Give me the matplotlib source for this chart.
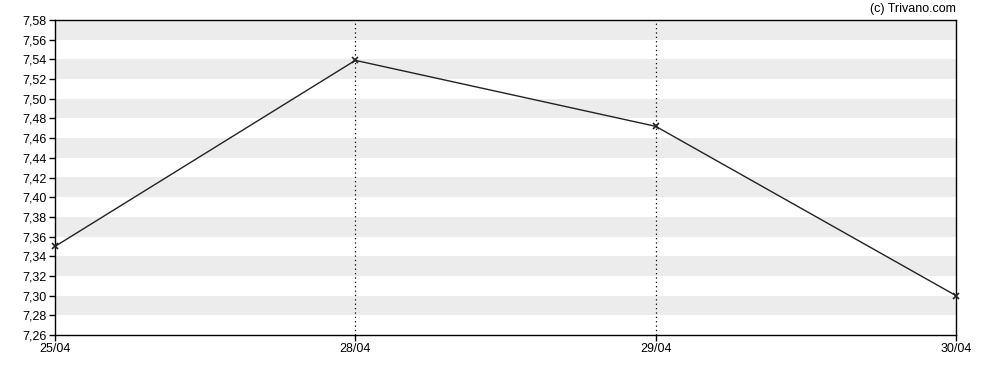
import numpy as np
import matplotlib.pyplot as plt

# data
dates = ['25/04', '28/04', '29/04', '30/04']
prices = [7.35, 7.539, 7.472, 7.30]
y_min, y_max, y_step = 7.26, 7.58, 0.02

plt.rcParams['font.family'] = ['Liberation Sans', 'DejaVu Sans']

fig = plt.figure(figsize=(9.88, 3.70), dpi=100)
ax = fig.add_axes([55 / 988, 35 / 370, 901 / 988, 315 / 370])

# alternating grey bands
yt = np.round(np.arange(y_min, y_max + 1e-9, y_step), 2)
for i in range(1, len(yt) - 1, 2):
    ax.axhspan(yt[i], yt[i + 1], color='#ececec', lw=0, zorder=0)

x = np.arange(len(dates))
for xi in x[1:-1]:
    ax.axvline(xi, color='black', ls=(0, (1, 2.5)), lw=0.9, zorder=1)

ax.plot(x, prices, color='#222222', lw=1, marker='x', ms=4, mew=1.2,
        zorder=3, clip_on=False)

ax.set_xlim(0, len(dates) - 1)
ax.set_ylim(y_min, y_max)
ax.set_xticks(x)
ax.set_xticklabels(dates)
ax.set_yticks(yt)
ax.set_yticklabels([f'{v:.2f}'.replace('.', ',') for v in yt])
ax.tick_params(labelsize=9, length=4, width=1, colors='black', pad=2)
for s in ax.spines.values():
    s.set_linewidth(1)

fig.text(956 / 988, 1 - 9 / 370, '(c) Trivano.com', ha='right', va='center', fontsize=9)

fig.savefig('out.png', dpi=100)
